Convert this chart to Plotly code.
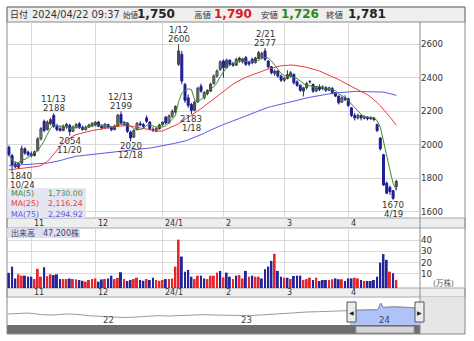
import plotly.graph_objects as go
import pandas as pd

W, H = 474, 341

# ---------------- data ----------------
holidays = ["2023-11-03", "2023-11-23", "2024-01-01", "2024-01-02", "2024-01-03",
            "2024-01-08", "2024-02-12", "2024-02-23", "2024-03-20"]
dates = [d for d in pd.bdate_range("2023-10-23", "2024-04-22")
         if d.strftime("%Y-%m-%d") not in holidays]

opens = [1985, 1935, 1885, 1865, 1890, 1975, 1955, 1945, 1935, 1965,
         2035, 2140, 2090, 2125, 2175, 2110, 2095, 2085, 2110, 2115,
         2080, 2105, 2125, 2105, 2090, 2105, 2115, 2120, 2135, 2110,
         2100, 2120, 2105, 2090, 2110, 2180, 2120, 2130, 2075, 2045,
         2090, 2125, 2120, 2160, 2135, 2090, 2080, 2095, 2120, 2165,
         2130, 2170, 2195, 2480, 2540, 2360, 2280, 2240, 2205, 2255,
         2350, 2280, 2305, 2320, 2365, 2410, 2450, 2500, 2460, 2505,
         2485, 2475, 2505, 2495, 2520, 2490, 2510, 2490, 2515, 2520,
         2560, 2500, 2465, 2425, 2440, 2410, 2385, 2395, 2410, 2420,
         2375, 2355, 2320, 2340, 2375, 2360, 2320, 2345, 2335, 2340,
         2325, 2335, 2310, 2290, 2255, 2280, 2275, 2220, 2175, 2160,
         2175, 2158, 2165, 2155, 2160, 2120, 2040, 1940, 1770, 1745,
         1725, 1750]
highs = [1995, 1945, 1900, 1895, 1995, 1985, 1965, 1960, 1965, 2045,
         2105, 2150, 2145, 2160, 2188, 2125, 2110, 2120, 2130, 2125,
         2115, 2130, 2135, 2115, 2115, 2125, 2135, 2140, 2140, 2120,
         2130, 2125, 2110, 2120, 2185, 2199, 2140, 2135, 2085, 2090,
         2135, 2140, 2130, 2175, 2140, 2105, 2105, 2125, 2140, 2170,
         2180, 2210, 2235, 2600, 2560, 2370, 2300, 2250, 2265, 2345,
         2365, 2320, 2330, 2370, 2420, 2450, 2505, 2510, 2515, 2510,
         2495, 2520, 2525, 2520, 2530, 2500, 2520, 2525, 2560, 2555,
         2577, 2505, 2470, 2450, 2445, 2420, 2405, 2445, 2440, 2425,
         2385, 2360, 2345, 2375, 2385, 2365, 2350, 2360, 2355, 2350,
         2345, 2345, 2315, 2295, 2290, 2295, 2280, 2225, 2190, 2185,
         2180, 2175, 2170, 2170, 2165, 2125, 2045, 1945, 1780, 1755,
         1730, 1790]
lows = [1930, 1840, 1860, 1855, 1885, 1940, 1930, 1925, 1930, 1960,
        2025, 2075, 2085, 2115, 2100, 2080, 2078, 2080, 2095, 2054,
        2075, 2095, 2095, 2085, 2085, 2100, 2105, 2110, 2105, 2090,
        2095, 2095, 2080, 2085, 2105, 2120, 2110, 2070, 2020, 2040,
        2085, 2110, 2100, 2130, 2085, 2075, 2075, 2090, 2110, 2120,
        2125, 2160, 2185, 2470, 2360, 2250, 2220, 2183, 2200, 2250,
        2310, 2270, 2295, 2315, 2360, 2400, 2440, 2400, 2455, 2470,
        2465, 2470, 2490, 2485, 2470, 2470, 2480, 2485, 2510, 2510,
        2500, 2455, 2420, 2410, 2400, 2375, 2375, 2390, 2400, 2360,
        2345, 2315, 2288, 2330, 2365, 2310, 2315, 2320, 2325, 2315,
        2320, 2300, 2285, 2240, 2250, 2260, 2225, 2165, 2145, 2150,
        2145, 2150, 2145, 2148, 2140, 2075, 1965, 1755, 1705, 1700,
        1670, 1726]
closes = [1940, 1875, 1868, 1888, 1978, 1950, 1940, 1935, 1958, 2035,
          2095, 2085, 2135, 2150, 2110, 2090, 2085, 2112, 2122, 2078,
          2105, 2120, 2100, 2090, 2105, 2118, 2128, 2135, 2110, 2100,
          2122, 2105, 2090, 2112, 2175, 2130, 2135, 2080, 2040, 2085,
          2128, 2118, 2110, 2140, 2095, 2085, 2098, 2118, 2135, 2130,
          2172, 2200, 2228, 2560, 2380, 2265, 2235, 2205, 2255, 2338,
          2320, 2312, 2325, 2362, 2410, 2440, 2495, 2460, 2505, 2480,
          2475, 2510, 2518, 2512, 2480, 2482, 2490, 2518, 2550, 2545,
          2510, 2465, 2430, 2440, 2410, 2385, 2398, 2420, 2430, 2370,
          2355, 2325, 2340, 2365, 2378, 2320, 2340, 2330, 2345, 2325,
          2340, 2310, 2290, 2250, 2280, 2270, 2235, 2175, 2160, 2175,
          2160, 2168, 2155, 2160, 2150, 2085, 1975, 1759, 1710, 1720,
          1680, 1781]
# volume, 10,000 shares (万株)
volumes = [11.0, 16.5, 6.0, 9.7, 8.5, 8.5, 7.6, 7.6, 5.5, 14.5,
           7.6, 16.0, 8.0, 9.7, 9.0, 9.7, 5.5, 5.5, 5.5, 6.0,
           5.5, 5.2, 4.7, 4.0, 3.2, 4.7, 5.5, 6.0, 3.2, 5.2,
           5.5, 6.0, 8.5, 5.5, 6.5, 11.5, 5.5, 3.8, 4.7, 5.5,
           6.7, 4.7, 4.0, 5.5, 4.7, 6.7, 4.7, 4.0, 4.7, 5.5,
           5.5, 6.0, 16.5, 40.3, 25.4, 12.0, 13.6, 7.6, 5.5, 8.5,
           8.5, 6.0, 5.5, 8.5, 8.5, 11.2, 12.7, 7.0, 11.2, 7.6,
           5.5, 8.5, 9.1, 6.0, 12.7, 7.6, 8.5, 7.6, 7.6, 6.0,
           14.2, 16.5, 21.6, 27.8, 12.7, 7.6, 6.7, 6.7, 5.5, 8.2,
           8.5, 8.5, 4.7, 5.5, 6.7, 4.7, 6.7, 3.8, 4.7, 4.7,
           4.7, 5.3, 6.1, 5.3, 5.3, 3.8, 6.1, 6.1, 6.7, 6.1,
           4.7, 3.8, 3.8, 3.8, 4.7, 7.6, 20.0, 27.5, 22.5, 12.0,
           10.6, 4.72]
vol_up = [0, 0, 0, 1, 1, 0, 0, 0, 1, 1,
          1, 0, 1, 1, 0, 0, 0, 1, 1, 0,
          1, 1, 0, 0, 1, 1, 1, 1, 0, 0,
          1, 0, 0, 1, 1, 0, 1, 0, 0, 1,
          1, 0, 0, 1, 0, 0, 1, 1, 1, 0,
          1, 1, 1, 1, 0, 0, 0, 0, 1, 1,
          0, 0, 1, 1, 1, 1, 0, 1, 0, 0,
          1, 0, 1, 1, 0, 1, 0, 1, 1, 0,
          0, 0, 0, 1, 0, 0, 1, 0, 1, 0,
          0, 0, 1, 1, 1, 0, 1, 0, 0, 0,
          1, 1, 0, 0, 1, 0, 0, 0, 1, 1,
          0, 1, 0, 0, 0, 0, 0, 0, 0, 1,
          0, 1]
ma25 = [1850, 1852, 1854, 1856, 1858, 1860, 1862, 1864, 1867, 1870, 1875,
        1885, 1900, 1920, 1945, 1970, 1990, 2010, 2025, 2040, 2052,
        2060, 2066, 2071, 2076, 2080, 2084, 2088, 2092, 2095, 2098,
        2101, 2104, 2107, 2110, 2112, 2114, 2113, 2111, 2108, 2104,
        2100, 2096, 2092, 2088, 2084, 2080, 2080, 2082, 2090, 2098,
        2106, 2114, 2125, 2138, 2150, 2162, 2174, 2186, 2200, 2215,
        2230, 2245, 2260, 2275, 2290, 2305, 2320, 2335, 2350, 2362,
        2373, 2384, 2394, 2403, 2410, 2416, 2422, 2430, 2438, 2446,
        2452, 2458, 2463, 2467, 2471, 2474, 2476, 2476, 2475, 2473,
        2470, 2466, 2462, 2458, 2452, 2446, 2440, 2432, 2424, 2415,
        2407, 2398, 2389, 2378, 2368, 2357, 2348, 2339, 2330, 2320,
        2310, 2298, 2285, 2270, 2252, 2232, 2212, 2190, 2166, 2141, 2116.24]
ma75 = [1875, 1876, 1876, 1877, 1878, 1879, 1880, 1881, 1882, 1883, 1884,
        1887, 1890, 1893, 1896, 1900, 1905, 1911, 1917, 1923, 1928,
        1931, 1933, 1935, 1937, 1939, 1941, 1943, 1945, 1947, 1949,
        1951, 1953, 1955, 1957, 1959, 1961, 1963, 1965, 1967, 1969,
        1972, 1975, 1977, 1980, 1983, 1986, 1989, 1993, 1997, 2001,
        2005, 2009, 2013, 2016, 2022, 2029, 2036, 2043, 2050, 2058,
        2068, 2078, 2088, 2097, 2106, 2113, 2120, 2127, 2134, 2141,
        2148, 2156, 2164, 2172, 2180, 2187, 2194, 2202, 2210, 2218,
        2223, 2228, 2233, 2238, 2243, 2248, 2253, 2258, 2263, 2267,
        2271, 2275, 2279, 2283, 2287, 2290, 2294, 2297, 2300, 2303,
        2307, 2309, 2311, 2313, 2315, 2317, 2318, 2318, 2318, 2318,
        2318, 2317, 2317, 2317, 2317, 2317, 2314, 2310, 2305, 2300, 2294.92]
# marked highs / lows : (index, kind)
marks = [(1, "low"), (14, "high"), (19, "low"), (35, "high"), (38, "low"),
         (53, "high"), (57, "low"), (80, "high"), (120, "low")]
# navigator (long-term) line
nav_dates = ["2021-05-01", "2021-06-01", "2021-06-25", "2021-08-01", "2021-09-01",
             "2021-10-01", "2021-11-01", "2021-12-01", "2022-01-01", "2022-02-01",
             "2022-03-01", "2022-04-01", "2022-05-01", "2022-06-01", "2022-07-01",
             "2022-08-01", "2022-09-01", "2022-10-01", "2022-11-01", "2022-12-01",
             "2023-01-01", "2023-02-01", "2023-03-01", "2023-04-01", "2023-05-01",
             "2023-06-01", "2023-07-01", "2023-08-01", "2023-09-01", "2023-10-01",
             "2023-10-23", "2023-11-15", "2023-12-15", "2024-01-05", "2024-01-12",
             "2024-01-19", "2024-02-15", "2024-03-15", "2024-04-05", "2024-04-22"]
nav_vals = [1940, 1960, 2000, 1900, 1880, 1940, 1920, 1840, 1790, 1760,
            1730, 1750, 1800, 1840, 1820, 1860, 1880, 1900, 1880, 1860,
            1850, 1840, 1880, 1930, 1960, 2020, 2060, 2080, 2100, 2130,
            2160, 2180, 2180, 2200, 2600, 2330, 2370, 2350, 2320, 2260]
year_marks = ["2022-01-01", "2023-01-01", "2024-01-01"]
header_time = "2024/04/22 09:37"

# ---------------- derived ----------------
n = len(closes)
x = list(range(n))
ma5 = pd.Series(closes).rolling(5, min_periods=1).mean().tolist()
month_idx, month_lbl = [], []
for i, d in enumerate(dates):
    if i > 0 and d.month != dates[i - 1].month:
        month_idx.append(i)
        month_lbl.append(f"{d.year % 100}/1" if d.month == 1 else str(d.month))

# ---------------- style ----------------
FONT = "DejaVu Sans, Noto Sans CJK JP"
GRID = "#d9d9d9"
UP_LINE = "#3a3a3a"
DN = "#1e1e96"
RED = "#e8262a"
BLUE = "#24249c"
C5, C25, C75 = "#3c8c32", "#e83c3c", "#5a5ae6"

PX0, PX1 = 7, 420          # plot area left/right (px)
XR = [-0.6, 128.4]
VOL_FLOOR = -2.4
MIN_BODY = 4               # minimal visible body height (yen)


def fx(p):
    return p / W


def fy(p):
    return 1 - p / H


fig = go.Figure()

# candle wicks
for want_up, col in ((True, UP_LINE), (False, DN)):
    wx, wy = [], []
    for i in x:
        if (closes[i] >= opens[i]) == want_up:
            wx += [i, i, None]
            wy += [lows[i], highs[i], None]
    fig.add_trace(go.Scatter(x=wx, y=wy, mode="lines", line=dict(color=col, width=1),
                             xaxis="x", yaxis="y", hoverinfo="skip", showlegend=False))
# candle bodies
up = [c >= o for o, c in zip(opens, closes)]
fig.add_trace(go.Bar(
    x=x, base=[min(o, c) for o, c in zip(opens, closes)],
    y=[max(abs(c - o), MIN_BODY) for o, c in zip(opens, closes)],
    width=0.62,
    marker=dict(color=["white" if u else DN for u in up],
                line=dict(color=[UP_LINE if u else DN for u in up], width=1)),
    xaxis="x", yaxis="y", hoverinfo="skip", showlegend=False))

for vals, col in ((ma75, C75), (ma25, C25), (ma5, C5)):
    fig.add_trace(go.Scatter(x=x, y=vals, mode="lines", line=dict(color=col, width=1),
                             xaxis="x", yaxis="y", hoverinfo="skip", showlegend=False))

fig.add_trace(go.Bar(x=x, y=[v - VOL_FLOOR for v in volumes], base=VOL_FLOOR,
                     marker=dict(color=[RED if u else BLUE for u in vol_up], line=dict(width=0)),
                     width=0.62, xaxis="x2", yaxis="y2", hoverinfo="skip", showlegend=False))

fig.add_trace(go.Scatter(x=nav_dates, y=nav_vals, mode="lines", line=dict(color="#9a9a9a", width=1),
                         xaxis="x3", yaxis="y3", hoverinfo="skip", showlegend=False))
win = [(d, v) for d, v in zip(nav_dates, nav_vals) if d >= dates[0].strftime("%Y-%m-%d")]
fig.add_trace(go.Scatter(x=[d for d, _ in win], y=[v for _, v in win], mode="lines",
                         line=dict(color="#8c8ca8", width=1), fill="tozeroy",
                         fillcolor="rgba(150,175,245,0.75)",
                         xaxis="x3", yaxis="y3", hoverinfo="skip", showlegend=False))

shapes = []


def rect(x0, y0, x1, y1, fill=None, line=None, lw=1, layer="below"):
    shapes.append(dict(type="rect", xref="paper", yref="paper",
                       x0=fx(x0), x1=fx(x1), y0=fy(y1), y1=fy(y0),
                       fillcolor=fill or "rgba(0,0,0,0)",
                       line=dict(color=line or "rgba(0,0,0,0)", width=lw if line else 0),
                       layer=layer))


# header, bands, navigator side, scrollbar
rect(7, 7, 465, 22, fill="#efefef", line="#8a8a8a")
rect(7, 218, 465, 228, fill="#eeeeee", line="#a8a8a8")
rect(7, 288, 465, 297, fill="#eeeeee", line="#a8a8a8")
rect(420, 297, 465, 334, fill="#e6e6e6")
rect(7, 325, 420, 334, fill="#6e6e6e")
rect(356, 326.5, 414, 333, fill="#d6d6d6", line="#9a9a9a")
rect(7, 7, 465, 334, line="#8a8a8a", layer="above")
shapes.append(dict(type="line", xref="paper", yref="paper", x0=fx(420), x1=fx(420),
                   y0=fy(334), y1=fy(22), line=dict(color="#8a8a8a", width=1), layer="above"))
# MA legend box and volume caption
rect(7, 188, 86, 218, fill="rgba(226,226,240,0.85)", layer="above")
rect(7, 228, 80, 238, fill="rgba(220,220,240,0.9)", layer="above")
# navigator handles
rect(347, 302, 356, 322, fill="#ececec", line="#555555", layer="above")
rect(415, 302, 424, 322, fill="#ececec", line="#555555", layer="above")

ann = []


def text(px, py, s, size=9, color="#333333", xanchor="left", bold=False):
    ann.append(dict(x=fx(px), y=fy(py), xref="paper", yref="paper", text=(f"<b>{s}</b>" if bold else s),
                    showarrow=False, xanchor=xanchor, yanchor="middle",
                    font=dict(size=size, color=color, family=FONT)))


# header
text(8, 15, "日付", 9)
text(30, 15, header_time, 9.8, "#333333")
text(121, 15.5, "始値", 7.5)
text(135, 14.5, f"{opens[-1]:,}", 12, "#222222", bold=True)
text(192, 15.5, "高値", 8.5)
text(212, 14.5, f"{highs[-1]:,}", 12, "#e0161c", bold=True)
text(259, 15.5, "安値", 8.5)
text(279, 14.5, f"{lows[-1]:,}", 12, "#2a8a22", bold=True)
text(324, 15.5, "終値", 8.5)
text(346, 14.5, f"{closes[-1]:,}", 12, "#222222", bold=True)

# MA legend
for row_y, name, val, col in ((193, "MA(5)", ma5[-1], C5), (203.5, "MA(25)", ma25[-1], C25),
                              (214, "MA(75)", ma75[-1], C75)):
    text(9, row_y, name, 7.8, col)
    text(85, row_y, f"{val:,.2f}", 7.8, col, xanchor="right")

text(9, 233, f"出来高　{volumes[-1] * 10000:,.0f}株", 8, "#44446a")
text(443, 283, "(万株)", 7.5, "#555555", xanchor="center")

# navigator arrows
text(351.5, 312, "◀", 6, "#222222", xanchor="center")
text(419.5, 312, "▶", 6, "#222222", xanchor="center")

# month labels
for mi, ml in zip(month_idx, month_lbl):
    for py in (223.3, 292.3):
        ann.append(dict(x=mi, y=fy(py), xref="x", yref="paper", text=ml, showarrow=False,
                        xanchor="left", yanchor="middle", xshift=0.5,
                        font=dict(size=8, color="#333333", family=FONT)))
# year labels on navigator
for ym in year_marks:
    ann.append(dict(x=ym, y=fy(320), xref="x3", yref="paper", text=ym[2:4], showarrow=False,
                    xanchor="left", yanchor="middle", xshift=1,
                    font=dict(size=8.5, color="#444444", family=FONT)))

# high/low markers
for i, kind in marks:
    d = dates[i]
    dl = f"{d.month}/{d.day}"
    if kind == "high":
        lines = [(highs[i], str(highs[i]), 5.5), (highs[i], dl, 14.5)]
    else:
        lines = [(lows[i], str(lows[i]), -5), (lows[i], dl, -14)]
    xa = "left" if i < 3 else "center"
    for yv, s, sh in lines:
        ann.append(dict(x=(XR[0] + 0.3 if xa == "left" else i), y=yv, xref="x", yref="y",
                        text=s, showarrow=False, xanchor=xa, yanchor="middle", yshift=sh,
                        font=dict(size=8.6, color="#333333", family=FONT)))

axis_common = dict(showline=False, zeroline=False, ticks="", fixedrange=True)
fig.update_layout(
    width=W, height=H, margin=dict(l=0, r=0, t=0, b=0),
    paper_bgcolor="white", plot_bgcolor="white", showlegend=False,
    font=dict(family=FONT, size=9, color="#333333"),
    barmode="overlay",
    xaxis=dict(domain=[fx(PX0), fx(PX1)], range=XR, tickvals=month_idx, showticklabels=False,
               showgrid=True, gridcolor=GRID, anchor="y", **axis_common),
    yaxis=dict(domain=[fy(218), fy(22)], range=[1562, 2733], side="right", anchor="x",
               tickvals=[1600, 1800, 2000, 2200, 2400, 2600], showgrid=True, gridcolor=GRID,
               tickfont=dict(size=8.7, color="#333333"), **axis_common),
    xaxis2=dict(domain=[fx(PX0), fx(PX1)], range=XR, tickvals=month_idx, showticklabels=False,
                showgrid=True, gridcolor=GRID, anchor="y2", **axis_common),
    yaxis2=dict(domain=[fy(288), fy(228)], range=[VOL_FLOOR, 50.6], side="right", anchor="x2",
                tickvals=[10, 20, 30, 40], showgrid=True, gridcolor=GRID,
                tickfont=dict(size=8.7, color="#333333"), **axis_common),
    xaxis3=dict(domain=[fx(PX0), fx(PX1)], type="date", range=["2021-04-30", "2024-04-25"],
                showticklabels=False, showgrid=False, anchor="y3", **axis_common),
    yaxis3=dict(domain=[fy(325), fy(297)], range=[1280, 2960], visible=False, anchor="x3",
                fixedrange=True),
    shapes=shapes, annotations=ann,
)

fig.write_html("out.html")
